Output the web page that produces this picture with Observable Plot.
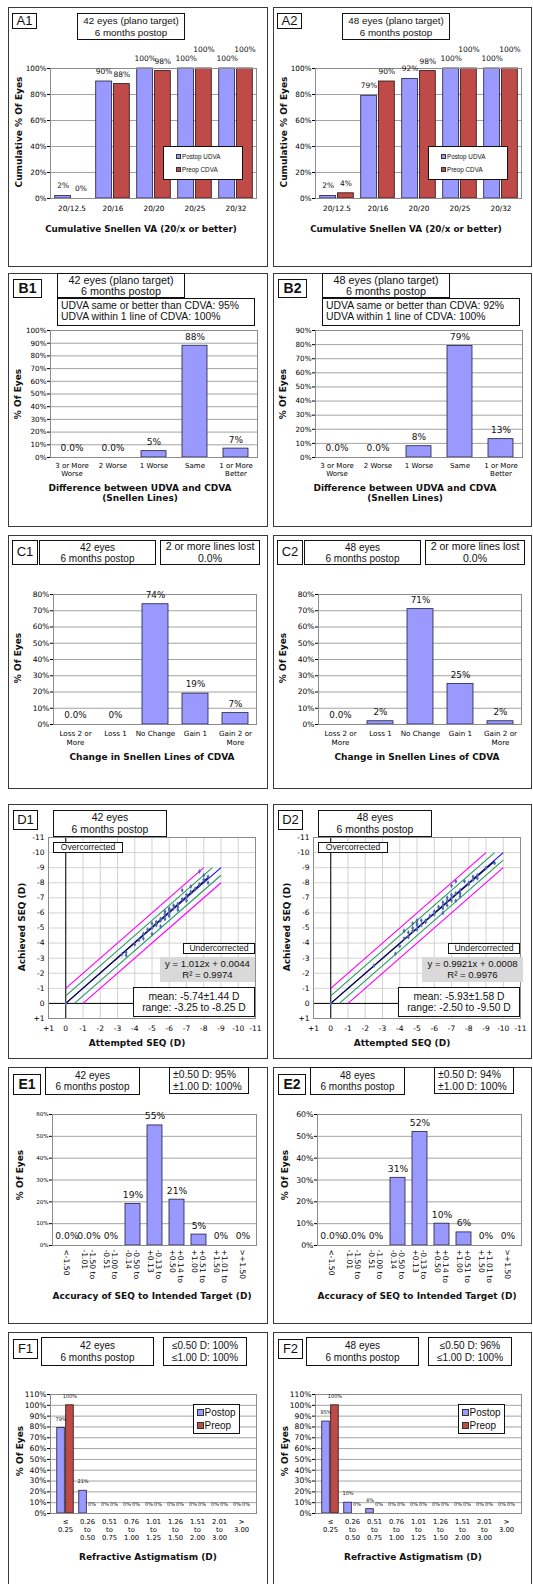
<!DOCTYPE html>
<html><head><meta charset="utf-8">
<script src="https://cdn.jsdelivr.net/npm/d3@7"></script>
<script src="https://cdn.jsdelivr.net/npm/@observablehq/plot@0.6"></script>
<style>
html,body{margin:0;padding:0;background:#fff;}
body{width:533px;height:1584px;overflow:hidden;position:relative;}
#root{position:absolute;left:0;top:0;width:533px;height:1584px;}
</style></head>
<body><div id="root"></div>
<script>
// ================= DATA =================
// Row A: cumulative Snellen VA
const snellenCats = ["20/12.5","20/16","20/20","20/25","20/32"];
const a1Postop = [2,90,100,100,100];
const a1Preop  = [0,88,98,100,100];
const a2Postop = [2,79,92,100,100];
const a2Preop  = [4,90,98,100,100];
const aYTicks = [0,20,40,60,80,100];

// Row B: UDVA vs CDVA
const diffCats = ["3 or More\nWorse","2 Worse","1 Worse","Same","1 or More\nBetter"];
const b1Vals = [0,0,5,88,7];
const b1Labels = ["0.0%","0.0%","5%","88%","7%"];
const b2Vals = [0,0,8,79,13];
const b2Labels = ["0.0%","0.0%","8%","79%","13%"];
const b1YTicks = [0,10,20,30,40,50,60,70,80,90,100];
const b2YTicks = [0,10,20,30,40,50,60,70,80,90];

// Row C: change in CDVA
const changeCats = ["Loss 2 or\nMore","Loss 1","No Change","Gain 1","Gain 2 or\nMore"];
const c1Vals = [0,0,74,19,7];
const c1Labels = ["0.0%","0%","74%","19%","7%"];
const c2Vals = [0,2,71,25,2];
const c2Labels = ["0.0%","2%","71%","25%","2%"];
const cYTicks = [0,10,20,30,40,50,60,70,80];

// Row D: attempted vs achieved SEQ
const seqTicks = [1,0,-1,-2,-3,-4,-5,-6,-7,-8,-9,-10,-11];
const seqTickLabels = ["+1","0","-1","-2","-3","-4","-5","-6","-7","-8","-9","-10","-11"];
const d1Attempted = [0,-3.25,-3.5,-3.5,-4,-4.25,-4.5,-4.5,-4.75,-5,-5,-5,-5.25,-5.25,-5.5,-5.5,-5.5,-5.75,-5.75,-5.75,-6,-6,-6,-6,-6.25,-6.25,-6.5,-6.5,-6.5,-6.75,-6.75,-7,-7,-7,-7.25,-7.25,-7.5,-7.75,-7.75,-8,-8,-8.25,-8.25];
const d1Achieved  = [0,-3.25,-3.4,-3.2,-3.9,-4.2,-4.3,-4.6,-4.9,-5.3,-4.6,-5,-5.2,-5.4,-5.5,-5.1,-5.6,-5.6,-5.9,-6.1,-6,-5.8,-6.2,-6.3,-6.3,-6.5,-6.4,-6.6,-6.2,-6.9,-7.5,-7,-7.2,-6.8,-7.4,-7.75,-7.6,-8.75,-7.9,-8.5,-8.2,-8,-8.4];
const d2Attempted = [0,-2.5,-3.75,-4,-4.25,-4.25,-4.5,-4.5,-4.75,-4.75,-4.75,-5,-5,-5,-5,-5.25,-5.25,-5.5,-5.5,-5.75,-6,-6,-6.25,-6.5,-6.5,-6.5,-6.5,-6.75,-6.75,-6.75,-7,-7,-7,-7,-7.25,-7.25,-7.25,-7.5,-7.5,-7.5,-7.75,-8,-8,-8.25,-8.25,-8.5,-8.5,-9,-9.5];
const d2Achieved  = [0,-2.5,-3.3,-3.8,-4.3,-4.8,-4.7,-4.4,-5.3,-5,-4.8,-5.2,-5.5,-4.9,-5.3,-5.5,-5.2,-5.5,-5.4,-5.8,-5.9,-6.1,-6.4,-6.5,-6,-6.7,-6.3,-6.8,-6.5,-7,-7,-7.8,-6.8,-7.2,-8.1,-7.3,-6.8,-7.3,-7.1,-7.5,-8.1,-8,-7.9,-8.4,-8.2,-8.5,-8.3,-9,-9.3];
// reference lines: [x1, y1, x2, y2]
const d1Magenta = [[0,-1,-8,-9],[-1,0,-9,-8]];
const d1Green   = [[0,-0.5,-8.5,-9],[-0.5,0,-9,-8.5]];
const d1Ideal   = [[0,0,-9,-9]];
const d1Fit     = [[0,0,-8.25,-8.35]];
const d2Magenta = [[0,-1,-9,-10],[-1,0,-10,-9]];
const d2Green   = [[0,-0.5,-9.5,-10],[-0.5,0,-10,-9.5]];
const d2Ideal   = [[0,0,-10,-10]];
const d2Fit     = [[0,0,-9.5,-9.43]];

// Row E: accuracy of SEQ
const accCats = ["<-1.50","-1.50 to\n-1.01","-1.00 to\n-0.51","-0.50 to\n-0.14","-0.13 to\n+0.13","+0.14 to\n+0.50","+0.51 to\n+1.00","+1.01 to\n+1.50",">+1.50"];
const e1Vals = [0,0,0,19,55,21,5,0,0];
const e1Labels = ["0.0%","0.0%","0%","19%","55%","21%","5%","0%","0%"];
const e2Vals = [0,0,0,31,52,10,6,0,0];
const e2Labels = ["0.0%","0.0%","0%","31%","52%","10%","6%","0%","0%"];
const eYTicks = [0,10,20,30,40,50,60];

// Row F: refractive astigmatism
const astigCats = ["≤\n0.25","0.26\nto\n0.50","0.51\nto\n0.75","0.76\nto\n1.00","1.01\nto\n1.25","1.26\nto\n1.50","1.51\nto\n2.00","2.01\nto\n3.00",">\n3.00"];
const f1Postop = [79,21,0,0,0,0,0,0,0];
const f1Preop  = [100,0,0,0,0,0,0,0,0];
const f2Postop = [85,10,4,0,0,0,0,0,0];
const f2Preop  = [100,0,0,0,0,0,0,0,0];
const fYTicks = [0,10,20,30,40,50,60,70,80,90,100,110];

// ================= HELPERS =================
const root = document.getElementById("root");
const FONT_AX = "'DejaVu Sans', Verdana, sans-serif";
const FONT_BOX = "'Liberation Sans', Arial, Helvetica, sans-serif";
const BLUE = "#9999FF", RED = "#BE4B48", OUT = "#1e1e3c", GRID = "#8c8c8c", LIGHT = "#c8c8c8";
const DX = 265; // right column offset

function el(tag, css){ const e = document.createElement(tag); Object.assign(e.style, css); root.append(e); return e; }

function panel(x0,y0,x1,y1){
  el("div",{position:"absolute",left:x0+"px",top:y0+"px",width:(x1-x0)+"px",height:(y1-y0)+"px",border:"1.5px solid #3a3a3a",boxSizing:"border-box"});
}
function box(r, lines, o={}){
  const d = el("div",{position:"absolute",left:r[0]+"px",top:r[1]+"px",width:(r[2]-r[0])+"px",height:(r[3]-r[1])+"px",
    boxSizing:"border-box",border:o.border||"1.2px solid #111",background:o.bg||"#fff",fontFamily:FONT_BOX,
    fontSize:(o.fs||10)+"px",fontWeight:o.bold?"bold":"normal",lineHeight:(o.lh||1.1),display:"flex",flexDirection:"column",
    justifyContent:"center",alignItems:o.left!==undefined?"flex-start":"center",paddingLeft:(o.left||0)+"px",whiteSpace:"nowrap",color:"#111"});
  for (const t of lines){ const s = document.createElement("div"); s.textContent = t; d.append(s); }
}
function axTitle(cx, cy, lines, rot, fs){
  const d = el("div",{position:"absolute",left:cx+"px",top:cy+"px",transform:"translate(-50%,-50%)"+(rot?" rotate(-90deg)":""),
    fontFamily:FONT_AX,fontWeight:"bold",fontSize:(fs||9)+"px",lineHeight:"1.15",textAlign:"center",whiteSpace:"nowrap",color:"#111"});
  for (const t of lines){ const s = document.createElement("div"); s.textContent = t; d.append(s); }
}
function legend(r, items, fs, sw, gap){
  const d = el("div",{position:"absolute",left:r[0]+"px",top:r[1]+"px",width:(r[2]-r[0])+"px",height:(r[3]-r[1])+"px",
    boxSizing:"border-box",border:"1.2px solid #111",background:"#fff",display:"flex",flexDirection:"column",justifyContent:"space-evenly",
    paddingLeft:gap+"px",fontFamily:FONT_BOX,fontSize:fs+"px",whiteSpace:"nowrap",color:"#111"});
  for (const [c,t] of items){
    const row = document.createElement("div"); row.style.display="flex"; row.style.alignItems="center";
    const s = document.createElement("span");
    Object.assign(s.style,{display:"inline-block",width:sw+"px",height:sw+"px",background:c,border:"0.6px solid #333",marginRight:"1px",boxSizing:"border-box"});
    const tx = document.createElement("span"); tx.textContent = t;
    row.append(s, tx); d.append(row);
  }
}
const M = [22, 14, 48, 44]; // top,right,bottom,left
function plotAt(frame, opts){
  const [x0,y0,x1,y1] = frame;
  const svg = Plot.plot({
    width: x1-x0+M[1]+M[3], height: y1-y0+M[0]+M[2],
    marginTop:M[0], marginRight:M[1], marginBottom:M[2], marginLeft:M[3],
    style:{background:"transparent", fontFamily:FONT_AX, color:"#000", overflow:"visible"},
    ...opts
  });
  Object.assign(svg.style,{position:"absolute",left:(x0-M[3])+"px",top:(y0-M[0])+"px"});
  root.append(svg);
  return svg;
}
function barChart(frame, cats, vals, labels, yTicks, o){
  const data = cats.map((c,i)=>({c, v:vals[i], t:labels[i]}));
  plotAt(frame, {
    x:{type:"band", domain:cats, paddingInner:o.pad, paddingOuter:o.pad/2, label:null},
    y:{domain:[0, yTicks[yTicks.length-1]], label:null},
    marks:[
      Plot.ruleY(yTicks, {stroke:GRID, strokeWidth:0.8}),
      Plot.barY(data.filter(d=>d.v>0), {x:"c", y:"v", fill:BLUE, stroke:OUT, strokeWidth:0.8}),
      Plot.frame({stroke:GRID}),
      Plot.text(data, {x:"c", y:"v", text:"t", dy:o.ldy||-9, fontSize:o.lfs, fill:"#111"}),
      Plot.axisY({ticks:yTicks, tickFormat:d=>d+"%", tickSize:3, tickPadding:1, fontSize:o.yfs}),
      Plot.axisX({tickSize:0, tickPadding:o.xpad, fontSize:o.xfs, lineHeight:o.xlh||1.15, tickRotate:o.rot||0})
    ]
  });
}
function groupChart(frame, cats, post, pre, yTicks, o){
  const n = cats.length, bw = (frame[2]-frame[0])/n;
  const {outer, frac, gap} = o;
  const dp = cats.map((c,i)=>({c, v:post[i], other:pre[i]}));
  const dr = cats.map((c,i)=>({c, v:pre[i], other:post[i]}));
  const dxP = (outer+frac/2-0.5)*bw, dxR = -dxP;
  const lift = d => d.v===100 && d.other===100;
  plotAt(frame, {
    x:{type:"band", domain:cats, padding:0, label:null},
    y:{domain:[0, yTicks[yTicks.length-1]], label:null},
    marks:[
      Plot.ruleY(yTicks, {stroke:GRID, strokeWidth:0.8}),
      Plot.barY(dp.filter(d=>d.v>0), {x:"c", y:"v", fill:BLUE, stroke:OUT, strokeWidth:0.8, insetLeft:outer*bw, insetRight:(1-outer-frac)*bw}),
      Plot.barY(dr.filter(d=>d.v>0), {x:"c", y:"v", fill:RED, stroke:"#2a1010", strokeWidth:0.8, insetLeft:(outer+frac+gap)*bw, insetRight:outer*bw}),
      Plot.frame({stroke:GRID}),
      Plot.text(dp, {x:"c", y:"v", text:d=>d.v+"%", dx:dxP, dy:o.ldy, fontSize:o.lfs, fill:"#111"}),
      Plot.text(dr.filter(d=>!(o.lift && lift(d))), {x:"c", y:"v", text:d=>d.v+"%", dx:dxR, dy:o.ldy, fontSize:o.lfs, fill:"#111"}),
      Plot.text(dr.filter(d=>o.lift && lift(d)), {x:"c", y:"v", text:d=>d.v+"%", dx:dxR, dy:o.ldy-9, fontSize:o.lfs, fill:"#111"}),
      Plot.axisY({ticks:yTicks, tickFormat:d=>d+"%", tickSize:3, tickPadding:1, fontSize:o.yfs}),
      Plot.axisX({tickSize:0, tickPadding:o.xpad, fontSize:o.xfs, lineHeight:1.15})
    ]
  });
}
function seqChart(frame, X, Y, mag, green, ideal, fit){
  const pts = X.map((x,i)=>({x, y:Y[i]}));
  const seg = a => a.map(([x1,y1,x2,y2])=>({x1,y1,x2,y2}));
  const L = {x1:"x1", y1:"y1", x2:"x2", y2:"y2"};
  const fmt = d => seqTickLabels[seqTicks.indexOf(d)];
  plotAt(frame, {
    x:{domain:[1,-11], label:null}, y:{domain:[1,-11], label:null},
    marks:[
      Plot.ruleX(seqTicks, {stroke:LIGHT, strokeWidth:0.8}),
      Plot.ruleY(seqTicks, {stroke:LIGHT, strokeWidth:0.8}),
      Plot.ruleX([0], {stroke:"#000", strokeWidth:1}),
      Plot.ruleY([0], {stroke:"#000", strokeWidth:1}),
      Plot.frame({stroke:GRID}),
      Plot.link(seg(mag), {...L, stroke:"#FF00FF", strokeWidth:1.2}),
      Plot.link(seg(green), {...L, stroke:"#2E9A68", strokeWidth:1.2}),
      Plot.link(seg(ideal), {...L, stroke:"#1515E8", strokeWidth:1.2}),
      Plot.link(seg(fit), {...L, stroke:"#0a0a30", strokeWidth:1.2}),
      Plot.dot(pts, {x:"x", y:"y", symbol:"diamond", r:1.5, fill:"#4A68B0"}),
      Plot.axisX({ticks:seqTicks, tickFormat:fmt, tickSize:0, tickPadding:7, fontSize:7.5}),
      Plot.axisY({ticks:seqTicks, tickFormat:fmt, tickSize:0, tickPadding:4, fontSize:7.5})
    ]
  });
}

// ================= ROW A =================
[[a1Postop,a1Preop,"A1","42 eyes (plano target)"],[a2Postop,a2Preop,"A2","48 eyes (plano target)"]].forEach(([post,pre,id,t],k)=>{
  const dx = k*DX;
  panel(8+dx, 7, k? 532 : 268, 267);
  groupChart([50+dx,68,256+dx,198], snellenCats, post, pre, aYTicks,
    {outer:0.09, frac:0.39, gap:0.04, ldy:-10, lfs:7.5, yfs:7.3, xfs:7.3, xpad:7, lift:true});
  box([12+dx,13,37+dx,29],[id],{fs:13});
  box([77+dx,13,185+dx,40],[t,"6 months postop"],{fs:9.8,lh:1.22});
  legend([163+dx,146,243+dx,180],[[BLUE,"Postop UDVA"],[RED,"Preop CDVA"]],6.3,5,12);
  axTitle(19+dx,132,["Cumulative % Of Eyes"],true,9);
  axTitle(141+dx,229,["Cumulative Snellen VA (20/x or better)"],false,8.8);
});

// ================= ROW B =================
[[b1Vals,b1Labels,b1YTicks,"B1","42 eyes (plano target)","95%"],[b2Vals,b2Labels,b2YTicks,"B2","48 eyes (plano target)","92%"]].forEach(([v,l,yt,id,t,p],k)=>{
  const dx = k*DX;
  panel(8+dx, 273, k? 532 : 268, 527);
  barChart([50+dx,330,257+dx,457], diffCats, v, l, yt, {pad:0.4, lfs:9, yfs:7.2, xfs:7, xpad:5});
  box([13+dx,279,42+dx,298],[id],{fs:14,bold:true});
  box([57+dx,273,185+dx,298],[t,"6 months postop"],{fs:10.8,lh:1.02});
  box([57+dx,298,255+dx,326],["UDVA same or better than CDVA: "+p,"UDVA within 1 line of CDVA: 100%"],{fs:10.4,lh:1.05,left:3});
  axTitle(18+dx,394,["% Of Eyes"],true,9);
  axTitle(140+dx,493,["Difference between  UDVA and CDVA","(Snellen Lines)"],false,9);
});

// ================= ROW C =================
[[c1Vals,c1Labels,"C1","42 eyes"],[c2Vals,c2Labels,"C2","48 eyes"]].forEach(([v,l,id,t],k)=>{
  const dx = k*DX;
  panel(8+dx, 535, k? 532 : 268, 789);
  barChart([53+dx,594,256+dx,724], changeCats, v, l, cYTicks, {pad:0.36, lfs:8.8, yfs:7.5, xfs:7.2, xpad:6});
  box([12+dx,540,38+dx,565],[id],{fs:13});
  box([39+dx,540,156+dx,565],[t,"6 months postop"],{fs:10,lh:1.1});
  box([160+dx,540,260+dx,565],["2 or more lines lost","0.0%"],{fs:10.5,lh:1.1});
  axTitle(18+dx,658,["% Of Eyes"],true,9);
  axTitle(152+dx,757,["Change in Snellen Lines of CDVA"],false,9);
});

// ================= ROW D =================
[
  [d1Attempted,d1Achieved,d1Magenta,d1Green,d1Ideal,d1Fit,"D1","42 eyes","y = 1.012x + 0.0044","R² = 0.9974","mean: -5.74±1.44 D","range: -3.25 to -8.25 D",[160,957,255,982]],
  [d2Attempted,d2Achieved,d2Magenta,d2Green,d2Ideal,d2Fit,"D2","48 eyes","y = 0.9921x + 0.0008","R² = 0.9976","mean: -5.93±1.58 D","range: -2.50 to -9.50 D",[157,957,258,982]]
].forEach(([X,Y,mg,gr,id0,ft,id,t,eq,r2,mean,range,eqBox],k)=>{
  const dx = k*DX;
  panel(8+dx, 804, k? 532 : 268, 1059);
  seqChart([48+dx,837,255+dx,1018], X, Y, mg, gr, id0, ft);
  box([13+dx,810,38+dx,830],[id],{fs:13});
  box([53+dx,810,167+dx,837],[t,"6 months postop"],{fs:10.4,lh:1.1});
  box([53+dx,842,123+dx,853],["Overcorrected"],{fs:8.6});
  box([183+dx,943,255+dx,954],["Undercorrected"],{fs:8.6});
  box([eqBox[0]+dx,eqBox[1],eqBox[2]+dx,eqBox[3]],[eq,r2],{fs:9.6,lh:1.1,bg:"#d9d9d9",border:"none"});
  box([133+dx,987,255+dx,1017],[mean,range],{fs:10.3,lh:1.1});
  axTitle(22+dx,927,["Achieved SEQ (D)"],true,9);
  axTitle(137+dx,1043,["Attempted SEQ (D)"],false,9);
});

// ================= ROW E =================
[[e1Vals,e1Labels,"E1","42 eyes","95%",5.5],[e2Vals,e2Labels,"E2","48 eyes","94%",7.8]].forEach(([v,l,id,t,p,yfs],k)=>{
  const dx = k*DX;
  panel(8+dx, 1067, k? 532 : 268, 1324);
  barChart([52+dx,1114,256+dx,1245], accCats, v, l, eYTicks, {pad:0.34, lfs:9.2, yfs, xfs:7.6, xlh:1.05, xpad:4, rot:90});
  box([13+dx,1074,41+dx,1095],[id],{fs:14,bold:true});
  box([45+dx,1067,140+dx,1095],[t,"6 months postop"],{fs:10,lh:1.1});
  box([169+dx,1067,249+dx,1094],["±0.50 D: "+p,"±1.00 D: 100%"],{fs:10.4,lh:1.1,left:3});
  axTitle(20+dx,1175,["% Of Eyes"],true,9);
  axTitle(152+dx,1296,["Accuracy of SEQ to Intended Target (D)"],false,9);
});

// ================= ROW F =================
[[f1Postop,f1Preop,"F1","42 eyes","100%"],[f2Postop,f2Preop,"F2","48 eyes","96%"]].forEach(([post,pre,id,t,p],k)=>{
  const dx = k*DX;
  panel(8+dx, 1332, k? 532 : 268, 1592);
  groupChart([50+dx,1394,256+dx,1513], astigCats, post, pre, fYTicks,
    {outer:0.12, frac:0.37, gap:0.02, ldy:-9, lfs:5, yfs:7.6, xfs:6.8, xpad:5, lift:false});
  box([13+dx,1339,38+dx,1359],[id],{fs:13});
  box([41+dx,1337,154+dx,1366],[t,"6 months postop"],{fs:10,lh:1.15});
  box([163+dx,1337,247+dx,1366],["≤0.50 D: "+p,"≤1.00 D: 100%"],{fs:10,lh:1.15});
  legend([193+dx,1404,240+dx,1434],[[BLUE,"Postop"],[RED,"Preop"]],10,6.5,3);
  axTitle(20+dx,1451,["% Of Eyes"],true,9);
  axTitle(148+dx,1557,["Refractive Astigmatism (D)"],false,9);
});
</script>
</body></html>
